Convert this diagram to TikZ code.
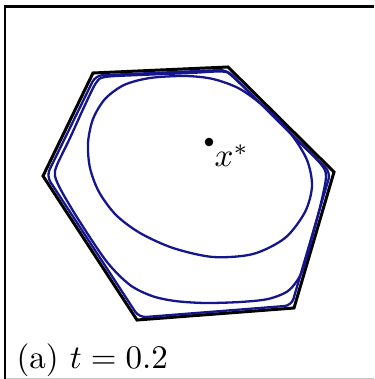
\documentclass[tikz,border=0pt]{standalone}
\definecolor{levelblue}{RGB}{22,22,140}
\begin{document}
\begin{tikzpicture}[x=1pt,y=-1pt,
    hexline/.style={line width=3pt,black,line join=miter},
    levelset/.style={line width=2.3pt,levelblue},
    bigtext/.style={inner sep=0pt,scale=3.3}]
\useasboundingbox (0,0) rectangle (374,379);

\draw[line width=2.6pt] (5,379)--(5,6.5)--(374,6.5);
\draw[line width=1.2pt,black!22] (6,378.3)--(374,378.3);

\draw[hexline] (93,73)--(228,67)--(334,172)--(294,308)--(137,320)--(43,176)--cycle;

\draw[levelset,rounded corners=7pt] (95.5,75.5)--(226.5,69.8)--(330.5,172.5)--(291.5,305.5)--(139,317.5)--(46.5,176)--cycle;

\draw[levelset] plot[smooth cycle] coordinates {
    (105,77) (140,75) (190,73) (222,71.5) (232,76) (260,103) (295,138)
    (320,163) (326,176) (321,203) (314,230) (307,256) (300,276) (288,291)
    (268,299) (240,302) (205,303) (175,301) (152,296) (130,285) (107,262)
    (80,222) (62,192) (55,176) (57,165) (70,138) (85,105) (96,83)};

\draw[levelset] plot[smooth cycle] coordinates {
    (124,85) (150,78) (185,76) (213,79) (240,89) (267,109) (291,134)
    (307,160) (312,186) (305,212) (285,238) (253,254) (213,257) (173,248)
    (140,233) (116,215) (99,192) (90,168) (88,143) (93,119) (105,99)};

\coordinate (xstar) at (209,142);
\fill (xstar) circle (4.3);
\node[bigtext,anchor=base west] (xlabel) at (214,167) {$x^*$};

\node[bigtext,anchor=base west] (caption) at (16,368) {(a) $t=0.2$};
\end{tikzpicture}
\end{document}
